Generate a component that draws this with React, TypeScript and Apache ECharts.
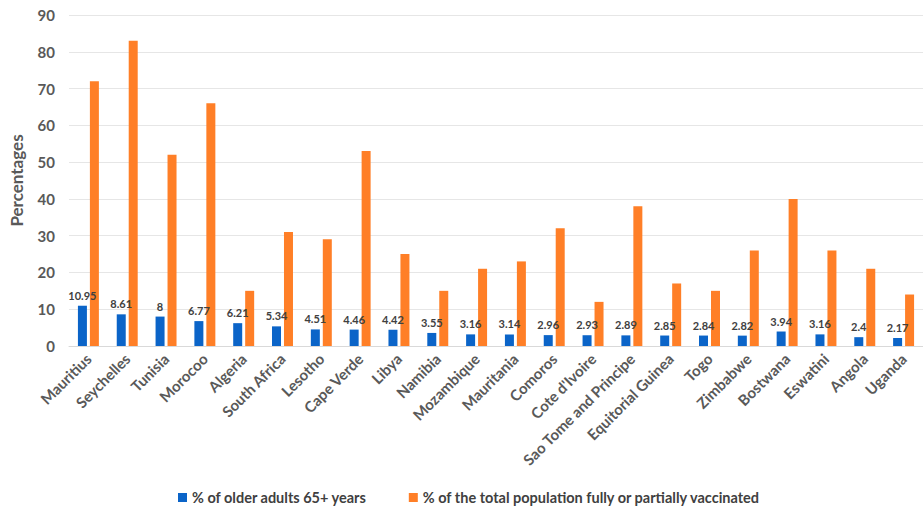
import React, { useEffect, useRef } from "react";
import * as echarts from "echarts";

const categories = [
  "Mauritius", "Seychelles", "Tunisia", "Morocoo", "Algeria", "South Africa",
  "Lesotho", "Cape Verde", "Libya", "Namibia", "Mozambique", "Mauritania",
  "Comoros", "Cote d'Ivoire", "Sao Tome and Principe", "Equitorial Guinea",
  "Togo", "Zimbabwe", "Bostwana", "Eswatini", "Angola", "Uganda",
];
const olderAdults = [
  10.95, 8.61, 8, 6.77, 6.21, 5.34, 4.51, 4.46, 4.42, 3.55, 3.16, 3.14, 2.96,
  2.93, 2.89, 2.85, 2.84, 2.82, 3.94, 3.16, 2.4, 2.17,
];
const vaccinated = [
  72, 83, 52, 66, 15, 31, 29, 53, 25, 15, 21, 23, 32, 12, 38, 17, 15, 26, 40,
  26, 21, 14,
];
const seriesNames = [
  "% of older adults 65+ years",
  "% of the total population fully or partially vaccinated",
];

const FONT = "Lato, 'Noto Sans', sans-serif";

export default function App() {
  const ref = useRef<HTMLDivElement>(null);
  useEffect(() => {
    if (!ref.current) return;
    const chart = echarts.init(ref.current, null, { renderer: "svg" });
    chart.setOption({
      animation: false,
      backgroundColor: "#ffffff",
      textStyle: { fontFamily: FONT },
      grid: { left: 63, top: 15, width: 872, height: 331, containLabel: false },
      legend: {
        bottom: -2,
        left: 173,
        itemWidth: 9,
        itemHeight: 9,
        itemGap: 42,
        icon: "rect",
        textStyle: { fontFamily: FONT, fontSize: 14.5, fontWeight: "bold", color: "#404040" },
        data: seriesNames,
      },
      xAxis: {
        type: "category",
        data: categories,
        axisLine: { lineStyle: { color: "#d9d9d9", width: 1 } },
        axisTick: { show: false },
        axisLabel: {
          rotate: 45,
          interval: 0,
          margin: 10,
          fontFamily: FONT,
          fontSize: 15,
          fontWeight: "bold",
          color: "#595959",
        },
      },
      yAxis: {
        type: "value",
        min: 0,
        max: 90,
        interval: 10,
        name: "Percentages",
        nameLocation: "middle",
        nameGap: 44,
        nameTextStyle: { fontFamily: FONT, fontSize: 17, fontWeight: "bold", color: "#595959" },
        axisLine: { show: false },
        axisTick: { show: false },
        axisLabel: { fontFamily: FONT, fontSize: 15, fontWeight: "bold", color: "#595959", margin: 14 },
        splitLine: { lineStyle: { color: "#e6e6e6", width: 1 } },
      },
      series: [
        {
          name: seriesNames[0],
          type: "bar",
          data: olderAdults,
          barWidth: 9,
          barGap: "33%",
          itemStyle: { color: "#0b64c8" },
          label: {
            show: true,
            position: "top",
            distance: 5,
            fontFamily: FONT,
            fontSize: 11,
            fontWeight: "bold",
            color: "#404040",
          },
        },
        {
          name: seriesNames[1],
          type: "bar",
          data: vaccinated,
          barWidth: 9,
          itemStyle: { color: "#ff7f27" },
        },
      ],
    });
    return () => chart.dispose();
  }, []);
  return <div ref={ref} style={{ width: 923, height: 508, position: "absolute", left: 0, top: 0 }} />;
}
